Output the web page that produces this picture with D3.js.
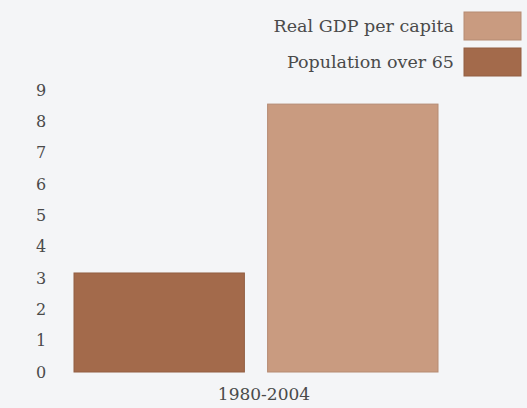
<!DOCTYPE html>
<html>
<head>
<meta charset="utf-8">
<script src="https://cdn.jsdelivr.net/npm/d3@7"></script>
<style>
  body { margin: 0; background: #f4f5f7; }
  svg { display: block; }
  text { font-family: "DejaVu Serif", "Liberation Serif", serif; fill: #4a4a4a; font-feature-settings: "onum"; }
</style>
</head>
<body>
<svg width="527" height="408"></svg>
<script>
// data
const categories = ["1980-2004"];
const series = ["Population over 65", "Real GDP per capita"];
const values = [3.16, 8.55];
const yTicks = [0, 1, 2, 3, 4, 5, 6, 7, 8, 9];
const colors = ["#a36a4b", "#c99b80"];
const legendOrder = ["Real GDP per capita", "Population over 65"];

const svg = d3.select("svg");

let y = d3.scaleLinear().domain([0, 9]).range([372, 90]);

let x0 = d3.scaleBand().domain(categories).range([74, 438]).padding(0);
let x1 = d3.scaleBand().domain(series).range([0, x0.bandwidth()]).paddingInner(0.12);

let color = d3.scaleOrdinal().domain(series).range(colors);

// y axis, labels only
let yAxis = svg.append("g")
    .attr("transform", "translate(41,0)")
    .call(d3.axisLeft(y).tickValues(yTicks).tickSize(0).tickPadding(0));
yAxis.select(".domain").remove();
yAxis.selectAll("text")
    .attr("text-anchor", "middle")
    .style("font-size", "16px")
    .style("font-family", "\"DejaVu Serif\", serif")
    .attr("fill", "#4a4a4a");

// bars
let groups = svg.selectAll(".group")
    .data(categories)
    .enter()
    .append("g")
    .attr("class", "group")
    .attr("transform", d => `translate(${x0(d)},0)`);

groups.selectAll("rect")
    .data(series.map((s, i) => ({ key: s, value: values[i] })))
    .enter()
    .append("rect")
    .attr("x", d => x1(d.key))
    .attr("y", d => y(d.value))
    .attr("width", x1.bandwidth())
    .attr("height", d => y(0) - y(d.value))
    .attr("fill", d => color(d.key))
    .attr("stroke", d => d3.color(color(d.key)).darker(0.3))
    .attr("stroke-width", 1);

// x axis label
let xAxis = svg.append("g")
    .attr("transform", "translate(8,388)")
    .call(d3.axisBottom(x0).tickSize(0).tickPadding(0));
xAxis.select(".domain").remove();
xAxis.selectAll("text")
    .attr("dy", "0.7em")
    .style("font-size", "17px")
    .style("font-family", "\"DejaVu Serif\", serif")
    .attr("fill", "#4a4a4a");

// legend
let legend = svg.selectAll(".legend")
    .data(legendOrder)
    .enter()
    .append("g")
    .attr("class", "legend")
    .attr("transform", (d, i) => `translate(0,${12 + i * 36})`);

legend.append("rect")
    .attr("x", 464)
    .attr("width", 57)
    .attr("height", 28)
    .attr("fill", d => color(d))
    .attr("stroke", d => d3.color(color(d)).darker(0.3));

legend.append("text")
    .attr("x", 454)
    .attr("y", 14)
    .attr("dy", "0.35em")
    .attr("text-anchor", "end")
    .style("font-size", "17.5px")
    .text(d => d);
</script>
</body>
</html>
